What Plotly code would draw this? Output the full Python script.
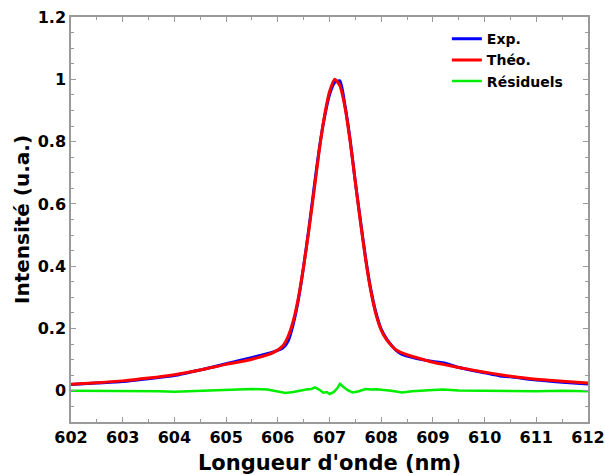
import plotly.graph_objects as go

# Wavelength grid (nm) for the experimental / theoretical profiles
wavelength = [602.0, 602.5, 603.0, 603.5, 604.0, 604.5, 605.0, 605.3, 605.6, 605.9,
              606.1, 606.2, 606.3, 606.4, 606.5, 606.6, 606.7, 606.8, 606.9, 607.0,
              607.1, 607.2, 607.3, 607.4, 607.5, 607.6, 607.7, 607.8, 607.9, 608.0,
              608.1, 608.2, 608.3, 608.4, 608.5, 608.76, 609.0, 609.2, 609.5, 610.0,
              610.3, 610.5, 611.0, 611.5, 612.0]

theo = [0.021, 0.026, 0.032, 0.041, 0.052, 0.067, 0.085, 0.094, 0.106, 0.122,
        0.145, 0.175, 0.225, 0.300, 0.400, 0.515, 0.640, 0.770, 0.880, 0.960,
        1.000, 0.980, 0.910, 0.800, 0.670, 0.540, 0.420, 0.320, 0.245, 0.195,
        0.165, 0.145, 0.130, 0.122, 0.116, 0.103, 0.092, 0.085, 0.075, 0.060,
        0.052, 0.047, 0.037, 0.031, 0.025]

exp = [0.020, 0.025, 0.030, 0.039, 0.049, 0.067, 0.087, 0.099, 0.111, 0.124,
       0.138, 0.160, 0.215, 0.295, 0.400, 0.520, 0.650, 0.775, 0.875, 0.950,
       0.990, 0.995, 0.915, 0.805, 0.670, 0.545, 0.425, 0.325, 0.250, 0.198,
       0.168, 0.146, 0.128, 0.117, 0.112, 0.101, 0.094, 0.090, 0.075, 0.058,
       0.048, 0.045, 0.035, 0.028, 0.022]

# Residuals
res_wavelength = [602.0, 602.5, 603.0, 603.3, 603.7, 604.0, 604.4, 605.0, 605.5, 605.8,
                  606.0, 606.15, 606.3, 606.45, 606.55, 606.65, 606.72, 606.8, 606.88, 606.95,
                  607.0, 607.08, 607.15, 607.2, 607.27, 607.35, 607.45, 607.55, 607.7, 607.8,
                  607.9, 608.0, 608.2, 608.4, 608.6, 609.0, 609.2, 609.5, 610.0, 610.5,
                  611.0, 611.5, 612.0]
residuals = [0.0, 0.0, 0.0, -0.002, -0.001, -0.003, 0.0, 0.003, 0.006, 0.004,
             -0.002, -0.007, -0.004, 0.002, 0.004, 0.006, 0.011, 0.004, -0.006, -0.004,
             -0.010, -0.004, 0.008, 0.022, 0.012, 0.002, -0.005, -0.002, 0.006, 0.004,
             0.005, 0.004, 0.000, -0.005, -0.001, 0.003, 0.004, 0.001, 0.000, -0.002,
             -0.001, 0.000, -0.001]

x_ticks = [602, 603, 604, 605, 606, 607, 608, 609, 610, 611, 612]
y_ticks = [0, 0.2, 0.4, 0.6, 0.8, 1, 1.2]
y_tick_labels = ["0", "0.2", "0.4", "0.6", "0.8", "1", "1.2"]

fig = go.Figure()
fig.add_trace(go.Scatter(x=wavelength, y=exp, mode="lines", name="Exp.",
                         line=dict(color="#0000ff", width=3, shape="spline", smoothing=0.6)))
fig.add_trace(go.Scatter(x=wavelength, y=theo, mode="lines", name="Théo.",
                         line=dict(color="#ff0000", width=3, shape="spline", smoothing=0.6)))
fig.add_trace(go.Scatter(x=res_wavelength, y=residuals, mode="lines", name="Résiduels",
                         line=dict(color="#00ee00", width=2.5)))

tick_font = dict(family="DejaVu Sans", size=16, color="black", weight="bold")
axis_common = dict(
    showgrid=False, zeroline=False, showline=True, linecolor="#9a9a9a", linewidth=1.5,
    mirror="allticks", ticks="inside", ticklen=5, tickcolor="#9a9a9a", tickwidth=1,
    tickfont=tick_font, ticklabeloverflow="allow",
)

fig.update_xaxes(range=[602, 612.0001], tickmode="array", tickvals=x_ticks,
                 ticktext=[str(v) for v in x_ticks],
                 minor=dict(dtick=0.5, tick0=602, ticks="inside", ticklen=3, tickcolor="#9a9a9a"),
                 title=dict(text="Longueur d'onde (nm)", standoff=9,
                            font=dict(family="DejaVu Sans", size=21, color="black", weight="bold")),
                 **axis_common)
fig.update_yaxes(range=[-0.1, 1.2001], tickmode="array", tickvals=y_ticks,
                 ticktext=y_tick_labels,
                 minor=dict(dtick=0.05, tick0=0, ticks="inside", ticklen=3, tickcolor="#9a9a9a"),
                 title=dict(text="Intensité (u.a.)", standoff=3,
                            font=dict(family="DejaVu Sans", size=20, color="black", weight="bold")),
                 **axis_common)

fig.update_layout(
    width=605, height=475,
    margin=dict(l=71, r=17, t=17, b=53, autoexpand=False),
    plot_bgcolor="white", paper_bgcolor="white",
    legend=dict(x=0.727, y=0.985, xanchor="left", yanchor="top",
                bgcolor="rgba(0,0,0,0)", itemwidth=30, tracegroupgap=0,
                font=dict(family="DejaVu Sans", size=14, color="black", weight="bold")),
)

# remove the default page margin so the figure fills the 605x475 window exactly
fig.write_html("out.html", config={"displayModeBar": False},
               post_script="document.body.style.margin='0';document.body.style.overflow='hidden';")
